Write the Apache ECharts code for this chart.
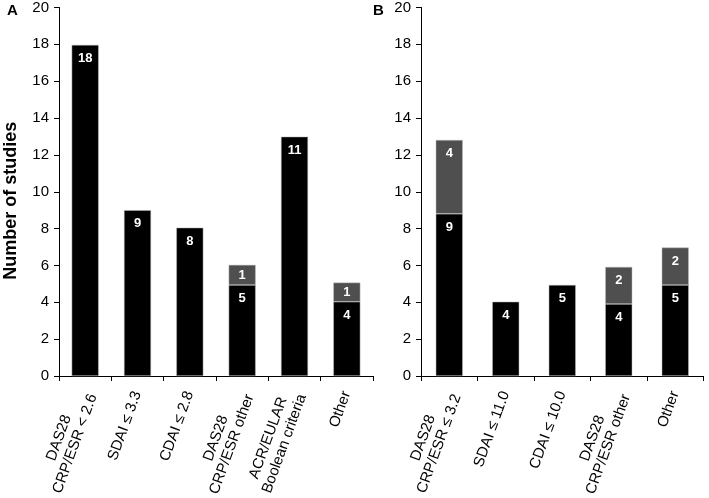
<!DOCTYPE html>
<html><head><meta charset="utf-8">
<script src="https://cdn.jsdelivr.net/npm/echarts@6/dist/echarts.min.js"></script>
<style>html,body{margin:0;padding:0;background:#fff}#c{width:709px;height:498px}</style>
</head><body><div id="c"></div>
<script>
// Panel A
const catsA = ['DAS28\nCRP/ESR < 2.6', 'SDAI ≤ 3.3', 'CDAI ≤ 2.8', 'DAS28\nCRP/ESR other', 'ACR/EULAR\nBoolean criteria', 'Other'];
const blackA = [17.97, 9, 8.05, 4.94, 12.99, 4.03];
const grayA = [null, null, null, 1.09, null, 1.04];
const blackLabelsA = [18, 9, 8, 5, 11, 4];
const grayLabelsA = [null, null, null, 1, null, 1];
// Panel B
const catsB = ['DAS28\nCRP/ESR ≤ 3.2', 'SDAI ≤ 11.0', 'CDAI ≤ 10.0', 'DAS28\nCRP/ESR other', 'Other'];
const blackB = [8.8, 4.03, 4.94, 3.91, 4.94];
const grayB = [4.01, null, null, 2.01, 2.03];
const blackLabelsB = [9, 4, 5, 4, 5];
const grayLabelsB = [4, null, null, 2, 2];
const yTicks = [0, 2, 4, 6, 8, 10, 12, 14, 16, 18, 20];

const FONT = '"Liberation Sans", Arial, sans-serif';
const XFS = 15;
const ctx = document.createElement('canvas').getContext('2d');
ctx.font = XFS + 'px ' + FONT;
function richFor(cats, prefix) {
  const rich = {};
  cats.forEach((c, i) => {
    const w = Math.max(...c.split('\n').map(s => ctx.measureText(s).width));
    rich[prefix + i] = {width: Math.ceil(w) + 1, align: 'center', fontSize: XFS, fontFamily: FONT, color: '#000', lineHeight: 17};
  });
  return rich;
}
function fmt(cats, prefix) {
  return (v) => {
    const idx = cats.indexOf(v);
    return v.split('\n').map(s => '{' + prefix + idx + '|' + s + '}').join('\n');
  };
}
const chart = echarts.init(document.getElementById('c'), null, {renderer: 'canvas'});
function xAxis(grid, cats, prefix) {
  return {
    type: 'category', gridIndex: grid, data: cats,
    axisLine: {lineStyle: {color: '#000', width: 1}},
    axisTick: {show: true, length: 5, lineStyle: {color: '#000'}},
    axisLabel: {rotate: 70, interval: 0, margin: 15, align: 'right', verticalAlign: 'middle',
      formatter: fmt(cats, prefix), rich: richFor(cats, prefix)}
  };
}
function yAxis(grid, name) {
  return {
    type: 'value', gridIndex: grid, min: 0, max: 20, interval: 2,
    name: name, nameLocation: 'middle', nameGap: 39, nameRotate: 90,
    nameTextStyle: {fontSize: 18, fontWeight: 'bold', fontFamily: FONT, color: '#000', padding: [0, 18, 0, 0]},
    axisLine: {show: true, lineStyle: {color: '#000', width: 1}},
    axisTick: {show: true, length: 5, lineStyle: {color: '#000'}},
    splitLine: {show: false},
    axisLabel: {fontSize: 15, fontFamily: FONT, color: '#000', margin: 10,
      formatter: v => yTicks.includes(v) ? String(v) : ''}
  };
}
function lbl(labels, pos, dist) {
  return {show: true, position: pos, distance: dist, color: '#fff', fontSize: 13, fontWeight: 'bold', fontFamily: FONT,
    formatter: p => labels[p.dataIndex] == null ? '' : String(labels[p.dataIndex])};
}
chart.setOption({
  animation: false,
  backgroundColor: '#fff',
  title: [
    {text: 'A', left: 7, top: 3, padding: 0, textStyle: {fontSize: 15, fontWeight: 'bold', fontFamily: FONT, color: '#000'}},
    {text: 'B', left: 373, top: 3, padding: 0, textStyle: {fontSize: 15, fontWeight: 'bold', fontFamily: FONT, color: '#000'}}
  ],
  grid: [
    {left: 59, top: 7.5, width: 314, height: 368.5, containLabel: false, outerBoundsMode: 'none'},
    {left: 421, top: 7.5, width: 282.5, height: 368.5, containLabel: false, outerBoundsMode: 'none'}
  ],
  xAxis: [xAxis(0, catsA, 'a'), xAxis(1, catsB, 'b')],
  yAxis: [yAxis(0, 'Number of studies'), yAxis(1, '')],
  series: [
    {type: 'bar', xAxisIndex: 0, yAxisIndex: 0, stack: 'A', data: blackA, barWidth: 27,
      itemStyle: {color: '#000', borderColor: '#bbb', borderWidth: 0.5}, label: lbl(blackLabelsA, 'insideTop', 7)},
    {type: 'bar', xAxisIndex: 0, yAxisIndex: 0, stack: 'A', data: grayA, barWidth: 27,
      itemStyle: {color: '#4f4f4f', borderColor: '#bbb', borderWidth: 0.5}, label: lbl(grayLabelsA, 'inside', 0)},
    {type: 'bar', xAxisIndex: 1, yAxisIndex: 1, stack: 'B', data: blackB, barWidth: 27,
      itemStyle: {color: '#000', borderColor: '#bbb', borderWidth: 0.5}, label: lbl(blackLabelsB, 'insideTop', 7)},
    {type: 'bar', xAxisIndex: 1, yAxisIndex: 1, stack: 'B', data: grayB, barWidth: 27,
      itemStyle: {color: '#4f4f4f', borderColor: '#bbb', borderWidth: 0.5}, label: lbl(grayLabelsB, 'insideTop', 7)}
  ]
});
</script></body></html>
